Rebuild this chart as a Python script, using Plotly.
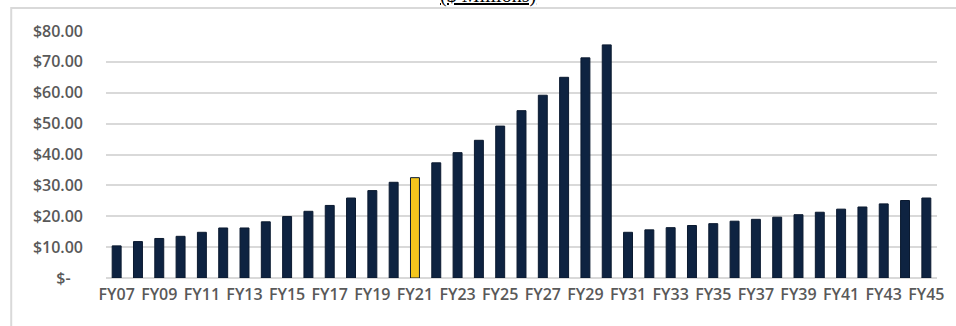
import plotly.graph_objects as go

# Fiscal years and annual amounts ($ millions)
years = [f"FY{y:02d}" for y in range(7, 46)]
amounts = [
    10.4, 11.8, 12.8, 13.5, 14.8, 16.2, 16.2, 18.2, 19.9, 21.6,
    23.5, 25.9, 28.3, 31.0, 32.5, 37.3, 40.6, 44.6, 49.2, 54.2,
    59.2, 65.0, 71.3, 75.5, 14.8, 15.6, 16.3, 17.0, 17.6, 18.4,
    19.0, 19.7, 20.5, 21.3, 22.3, 23.0, 24.0, 25.1, 25.9,
]
highlight_year = "FY21"

x_tick_labels = years[::2]
y_tick_vals = [0, 10, 20, 30, 40, 50, 60, 70, 80]
y_tick_text = ["$-\u00a0\u00a0\u00a0"] + [f"${v:.2f}" for v in y_tick_vals[1:]]

NAVY = "#0e2341"
GOLD = "#f4c61d"
colors = [GOLD if y == highlight_year else NAVY for y in years]

W, H = 956, 326
L, R, T, B = 106, 17, 31, 48

fig = go.Figure(
    go.Bar(
        x=years,
        y=amounts,
        marker=dict(color=colors, line=dict(color="#0b1a30", width=1)),
        width=0.42,
        hoverinfo="x+y",
    )
)

pw = W - L - R
ph = H - T - B
fig.add_shape(
    type="rect", xref="paper", yref="paper",
    x0=(11 - L) / pw, x1=(W + 20 - L) / pw,
    y0=-(B + 20) / ph, y1=(H - 8 - B) / ph,
    line=dict(color="#d9d9d9", width=2), fillcolor="rgba(0,0,0,0)",
    layer="below",
)

fig.add_annotation(
    text="<u>($ Millions)</u>", xref="paper", yref="paper",
    x=(489 - L) / pw, y=(H - 9 - B) / ph, yanchor="bottom", xanchor="center",
    showarrow=False, font=dict(family="Liberation Serif", size=20, color="#000000"),
)

tick_font = dict(family="Open Sans", size=16, color="#595959", weight=600)

fig.update_layout(
    width=W, height=H,
    margin=dict(l=L, r=R, t=T, b=B),
    paper_bgcolor="white", plot_bgcolor="white",
    showlegend=False,
    font=dict(family="Open Sans", color="#595959"),
)
fig.update_xaxes(
    type="category",
    range=[-0.5, len(years) - 0.5],
    tickmode="array", tickvals=x_tick_labels, ticktext=x_tick_labels,
    tickfont=tick_font,
    showgrid=False, showline=False, ticks="",
    tickangle=0, ticklabelstandoff=5,
)
fig.update_yaxes(
    range=[0, 80],
    tickmode="array", tickvals=y_tick_vals, ticktext=y_tick_text,
    tickfont=tick_font,
    showgrid=True, gridcolor="#d9d9d9", gridwidth=2,
    zeroline=True, zerolinecolor="#d9d9d9", zerolinewidth=2,
    showline=False, ticks="", ticklabelstandoff=22,
)

fig.write_html("out.html")
